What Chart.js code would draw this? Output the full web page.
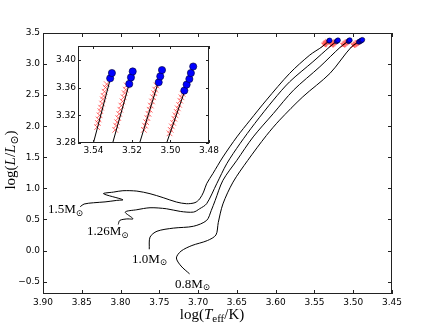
<!DOCTYPE html>
<html lang="en">
<head>
<meta charset="UTF-8">
<title>Evolutionary tracks</title>
<script src="https://cdn.jsdelivr.net/npm/chart.js"></script>
<style>
  html, body { margin: 0; padding: 0; background: #fff; }
  #wrap { position: relative; width: 436px; height: 327px; }
  #wrap canvas { position: absolute; left: 0; top: 0; }
</style>
</head>
<body>
<div id="wrap">
  <canvas id="mainChart" width="436" height="327"></canvas>
  <canvas id="insetChart" width="436" height="327"></canvas>
</div>
<script>
// axis ticks
const xTickValues = [3.90, 3.85, 3.80, 3.75, 3.70, 3.65, 3.60, 3.55, 3.50, 3.45];
const yTickValues = [-0.5, 0.0, 0.5, 1.0, 1.5, 2.0, 2.5, 3.0, 3.5];
const insetXTicks = [3.54, 3.52, 3.50, 3.48];
const insetYTicks = [3.28, 3.32, 3.36, 3.40];

const masses = ['1.5', '1.26', '1.0', '0.8'];

// tracks: [log Teff, log L]
const track15 = [
  [3.852, 0.705], [3.847, 0.748], [3.835, 0.768], [3.820, 0.782], [3.805, 0.806], [3.797, 0.817],
  [3.822, 0.914], [3.809, 0.940], [3.797, 0.962], [3.779, 0.956], [3.762, 0.914],
  [3.745, 0.850], [3.728, 0.780], [3.715, 0.753], [3.704, 0.770], [3.698, 0.830],
  [3.693, 0.940], [3.689, 1.075], [3.681, 1.237], [3.668, 1.505], [3.650, 1.828],
  [3.633, 2.097], [3.612, 2.420], [3.582, 2.850], [3.556, 3.145], [3.540, 3.280], [3.5304, 3.381]
];
const track126 = [
  [3.803, 0.419], [3.801, 0.484], [3.792, 0.508], [3.784, 0.511], [3.794, 0.618],
  [3.779, 0.656], [3.762, 0.688], [3.741, 0.672], [3.723, 0.629], [3.706, 0.618],
  [3.698, 0.672], [3.689, 0.753], [3.676, 1.075], [3.663, 1.398], [3.646, 1.720],
  [3.627, 2.043], [3.603, 2.420], [3.582, 2.715], [3.552, 3.037], [3.530, 3.280], [3.5196, 3.3833]
];
const track10 = [
  [3.763, 0.020], [3.762, 0.215], [3.753, 0.310], [3.732, 0.360], [3.706, 0.390],
  [3.689, 0.484], [3.683, 0.645], [3.678, 0.806], [3.668, 1.129], [3.650, 1.452],
  [3.629, 1.828], [3.603, 2.204], [3.577, 2.580], [3.543, 2.957], [3.516, 3.280], [3.5044, 3.3853]
];
const track08 = [
  [3.711, -0.376], [3.722, -0.250], [3.728, -0.120], [3.722, -0.010], [3.708, 0.080],
  [3.688, 0.160], [3.677, 0.250], [3.674, 0.450], [3.668, 0.750], [3.655, 1.100],
  [3.636, 1.450], [3.612, 1.850], [3.595, 2.097], [3.565, 2.473], [3.530, 2.850],
  [3.502, 3.280], [3.4882, 3.3904]
];

// red crosses near the tips
const crosses15 = [
  [3.5381, 3.303], [3.5377, 3.309], [3.5373, 3.314], [3.5368, 3.320], [3.5364, 3.326], [3.5360, 3.331],
  [3.5355, 3.337], [3.5351, 3.343], [3.5347, 3.348], [3.5342, 3.354], [3.5337, 3.360], [3.5331, 3.365]
];
const crosses126 = [
  [3.5287, 3.299], [3.5282, 3.305], [3.5277, 3.310], [3.5271, 3.316], [3.5266, 3.322], [3.5260, 3.328],
  [3.5255, 3.334], [3.5249, 3.340], [3.5243, 3.346], [3.5238, 3.352], [3.5232, 3.357], [3.5227, 3.363]
];
const crosses10 = [
  [3.5138, 3.299], [3.5132, 3.305], [3.5126, 3.310], [3.5120, 3.316], [3.5114, 3.322], [3.5108, 3.328],
  [3.5102, 3.334], [3.5096, 3.340], [3.5090, 3.346], [3.5084, 3.352], [3.5079, 3.357], [3.5073, 3.363]
];
const crosses08 = [
  [3.5005, 3.294], [3.4999, 3.299], [3.4993, 3.304], [3.4986, 3.309], [3.4980, 3.315], [3.4974, 3.320],
  [3.4968, 3.325], [3.4962, 3.330], [3.4955, 3.335], [3.4949, 3.341], [3.4943, 3.346], [3.4937, 3.351]
];

// blue circles at the tips
const circles15 = [[3.5313, 3.3733], [3.5304, 3.381]];
const circles126 = [[3.5214, 3.3653], [3.5205, 3.3747], [3.5196, 3.3833]];
const circles10 = [[3.5061, 3.3676], [3.5053, 3.3762], [3.5044, 3.3853]];
const circles08 = [[3.4928, 3.3557], [3.4916, 3.3643], [3.4902, 3.3724], [3.4894, 3.381], [3.4882, 3.3904]];

// where the mass labels sit (left edge, baseline), data units
const labelAnchors = [[3.8936, 0.597], [3.8433, 0.242], [3.7853, -0.194], [3.7299, -0.597]];

const tracks = [track15, track126, track10, track08];
const crosses = [crosses15, crosses126, crosses10, crosses08];
const circles = [circles15, circles126, circles10, circles08];

const pts = arr => arr.map(([x, y]) => ({ x: x, y: y }));
const SERIF = '"Liberation Serif", "DejaVu Serif", serif';

// draws text made of pieces: [text, kind] with kind r / i / s (subscript)
function drawRich(ctx, parts, x, y, size, align) {
  const fontOf = k => k === 'i' ? `italic ${size}px ${SERIF}` : k === 's' ? `${Math.round(size * 0.7)}px ${SERIF}` : `${size}px ${SERIF}`;
  let w = 0;
  parts.forEach(([t, k]) => { ctx.font = fontOf(k); w += ctx.measureText(t).width; });
  let cx = align === 'center' ? x - w / 2 : x;
  ctx.textBaseline = 'alphabetic';
  ctx.textAlign = 'left';
  parts.forEach(([t, k]) => {
    ctx.font = fontOf(k);
    ctx.fillText(t, cx, k === 's' ? y + size * 0.22 : y);
    cx += ctx.measureText(t).width;
  });
}

// frame + inward ticks on all four sides (matplotlib classic look)
const frameTicks = {
  id: 'frameTicks',
  beforeDraw(chart, args, opts) {
    const { ctx, chartArea: a } = chart;
    ctx.save();
    ctx.fillStyle = '#fff';
    if (opts.full) ctx.fillRect(0, 0, chart.width, chart.height);
    else ctx.fillRect(a.left, a.top, a.right - a.left, a.bottom - a.top);
    ctx.restore();
  },
  afterDatasetsDraw(chart, args, opts) {
    const { ctx, chartArea: a, scales: { x, y } } = chart;
    const L = opts.len || 4;
    ctx.save();
    ctx.strokeStyle = '#222';
    ctx.lineWidth = 1;
    ctx.beginPath();
    x.ticks.forEach(t => {
      const px = Math.round(x.getPixelForValue(t.value)) + 0.5;
      ctx.moveTo(px, a.bottom); ctx.lineTo(px, a.bottom - L);
      ctx.moveTo(px, a.top); ctx.lineTo(px, a.top + L);
    });
    y.ticks.forEach(t => {
      const py = Math.round(y.getPixelForValue(t.value)) + 0.5;
      ctx.moveTo(a.left, py); ctx.lineTo(a.left + L, py);
      ctx.moveTo(a.right, py); ctx.lineTo(a.right - L, py);
    });
    ctx.stroke();
    ctx.strokeRect(Math.round(a.left) + 0.5, Math.round(a.top) + 0.5,
      Math.round(a.right - a.left) - 1, Math.round(a.bottom - a.top) - 1);
    ctx.restore();
  }
};

// mass labels and axis titles for the main panel
const mainText = {
  id: 'mainText',
  afterDraw(chart) {
    const { ctx, scales: { x, y } } = chart;
    ctx.save();
    ctx.fillStyle = '#000';
    masses.forEach((m, i) => {
      const [lx, ly] = labelAnchors[i];
      drawRich(ctx, [[m + 'M', 'r'], ['\u2299', 's']], x.getPixelForValue(lx), y.getPixelForValue(ly), 13, 'left');
    });
    drawRich(ctx, [['log(', 'r'], ['T', 'i'], ['eff', 's'], ['/K)', 'r']], 212, 319, 15, 'center');
    ctx.translate(15, 160);
    ctx.rotate(-Math.PI / 2);
    drawRich(ctx, [['log(', 'r'], ['L', 'i'], ['/', 'r'], ['L', 'i'], ['\u2299', 's'], [')', 'r']], 0, 0, 15, 'center');
    ctx.restore();
  }
};

function axis(min, max, ticks, digits, reverse, fitKey, fitVal, pad) {
  return {
    type: 'linear', min: min, max: max, reverse: reverse,
    afterBuildTicks: s => { s.ticks = ticks.map(v => ({ value: v })); },
    afterFit: s => { s[fitKey] = fitVal; },
    grid: { display: false, drawTicks: false },
    border: { display: false },
    ticks: {
      padding: pad, color: '#000', autoSkip: false, maxRotation: 0,
      font: { family: 'DejaVu Sans', size: 9 },
      callback: v => (v < 0 ? '\u2212' : '') + Math.abs(v).toFixed(digits)
    }
  };
}

function datasets(inset) {
  const out = [];
  tracks.forEach((t, i) => {
    out.push({ data: pts(t), showLine: true, borderColor: '#000', borderWidth: 1,
      pointRadius: 0, tension: inset ? 0 : 0.3, order: 1 });
    out.push({ data: pts(crosses[i]), showLine: false, pointStyle: 'crossRot',
      pointRadius: inset ? 4 : 3, borderColor: 'rgba(255,50,50,0.7)', borderWidth: 1, order: 2 });
    out.push({ data: pts(circles[i]), showLine: false, pointStyle: 'circle',
      pointRadius: inset ? 3.6 : 2.4, backgroundColor: '#0000ff', borderColor: '#000033',
      borderWidth: 0.6, order: 0 });
  });
  return out;
}

new Chart(document.getElementById('mainChart'), {
  type: 'scatter',
  data: { datasets: datasets(false) },
  options: {
    responsive: false, animation: false, devicePixelRatio: 1,
    layout: { padding: { left: 0, top: 33, right: 44, bottom: 0 } },
    plugins: { legend: { display: false }, tooltip: { enabled: false }, frameTicks: { full: true, len: 4 } },
    scales: {
      x: axis(3.45, 3.90, xTickValues, 2, true, 'height', 33, 3),
      y: axis(-0.7, 3.5, yTickValues, 1, false, 'width', 43, 3)
    }
  },
  plugins: [frameTicks, mainText]
});

new Chart(document.getElementById('insetChart'), {
  type: 'scatter',
  data: { datasets: datasets(true) },
  options: {
    responsive: false, animation: false, devicePixelRatio: 1,
    layout: { padding: { left: 0, top: 46, right: 227, bottom: 164 } },
    plugins: { legend: { display: false }, tooltip: { enabled: false }, frameTicks: { full: false, len: 3 } },
    scales: {
      x: axis(3.48, 3.548, insetXTicks, 2, true, 'height', 20, 2),
      y: axis(3.28, 3.42, insetYTicks, 2, false, 'width', 78, 2)
    }
  },
  plugins: [frameTicks]
});
</script>
</body>
</html>
